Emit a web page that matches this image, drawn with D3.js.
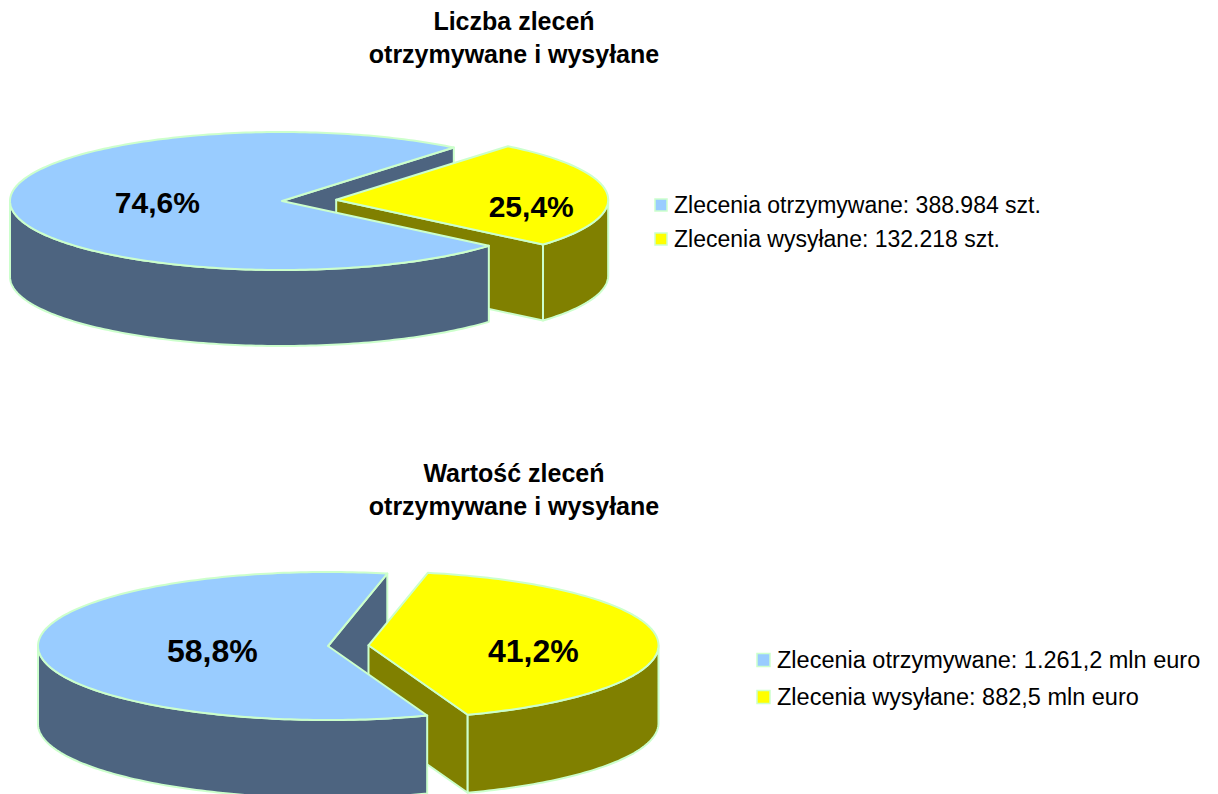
<!DOCTYPE html>
<html>
<head>
<meta charset="utf-8">
<script src="https://cdn.jsdelivr.net/npm/d3@7"></script>
<style>
  body { margin: 0; background: #fff; }
  text { font-family: "Liberation Sans", Arial, sans-serif; }
</style>
</head>
<body>
<script>
// dane
const categories = ["Zlecenia otrzymywane", "Zlecenia wysyłane"];
const countValues = [388984, 132218];
const countUnit = "szt.";
const amountValues = [1261.2, 882.5];
const amountUnit = "mln euro";
const titles = [
  ["Liczba zleceń", "otrzymywane i wysyłane"],
  ["Wartość zleceń", "otrzymywane i wysyłane"]
];

const topColors = ["#99ccff", "#ffff00"];
const sideColors = ["#4d6480", "#808000"];
const edge = "#ccffcc";

const pl = d3.formatLocale({ decimal: ",", thousands: ".", grouping: [3], currency: ["", ""] });
const pct = pl.format(".1%");
const countFmt = pl.format(",");
const amountFmt = pl.format(",.1f");

// uklad obu wykresow
const layouts = [
  { values: countValues, fmt: countFmt, unit: countUnit, title: titles[0],
    cx: 282, cy: 201, rx: 272, ry: 69, depth: 76, startDeg: 40.5, explode: [0, 0.2],
    labelR: [0.46, 0.72], labelDy: [-2, 11], labelSize: 30,
    titleY: 30, legendX: 655, legendY: 205, legendStep: 34, legendSize: 23, box: 12 },
  { values: amountValues, fmt: amountFmt, unit: amountUnit, title: titles[1],
    cx: 328, cy: 646, rx: 290, ry: 74, depth: 78, startDeg: 70, explode: [0, 0.14],
    labelR: [0.40, 0.57], labelDy: [2, 8], labelSize: 32,
    titleY: 482, legendX: 757, legendY: 660, legendStep: 37, legendSize: 23.5, box: 13 }
];

const svg = d3.select("body").append("svg")
  .attr("width", 1218)
  .attr("height", 794);

function drawPie(L) {
  const g = svg.append("g");
  const x = d3.scaleLinear().domain([-1, 1]).range([L.cx - L.rx, L.cx + L.rx]);
  const y = d3.scaleLinear().domain([-1, 1]).range([L.cy - L.ry, L.cy + L.ry]);
  const a0 = (L.startDeg + 90) * Math.PI / 180;
  const pie = d3.pie().sort(null).startAngle(a0).endAngle(a0 + 2 * Math.PI);
  const total = d3.sum(L.values);

  // katy ekranowe (0 = wschod, zgodnie z ruchem wskazowek)
  const slices = pie(L.values).map((d, i) => {
    const s = d.startAngle - Math.PI / 2;
    const e = d.endAngle - Math.PI / 2;
    const m = (s + e) / 2;
    const ox = x(L.explode[i] * Math.cos(m)) - L.cx;
    const oy = y(L.explode[i] * Math.sin(m)) - L.cy;
    return { i, s, e, m, ox, oy, value: d.value };
  });

  const pt = (sl, a, r = 1, dz = 0) => [x(r * Math.cos(a)) + sl.ox, y(r * Math.sin(a)) + sl.oy + dz];
  const arcPts = (sl, from, to, dz = 0) => {
    const n = Math.max(2, Math.ceil(Math.abs(to - from) / 0.02));
    return d3.range(n + 1).map(k => pt(sl, from + (to - from) * k / n, 1, dz));
  };
  const line = d3.line();

  // sciany promieniowe
  const faces = [];
  slices.forEach(sl => {
    [[sl.s, -1], [sl.e, 1]].forEach(([a, side]) => {
      if (side * Math.cos(a) > 0) {
        const c = pt(sl, 0, 0), r = pt(sl, a);
        const poly = [c, r, [r[0], r[1] + L.depth], [c[0], c[1] + L.depth]];
        faces.push({ sl, poly, my: (c[1] + r[1]) / 2 });
      }
    });
  });
  faces.sort((p, q) => p.my - q.my);
  faces.forEach(f => {
    g.append("path")
      .attr("d", line(f.poly) + "Z")
      .attr("fill", sideColors[f.sl.i])
      .attr("stroke", edge).attr("stroke-width", 2).attr("stroke-linejoin", "round");
  });

  // sciany zewnetrzne (przednia polowa)
  slices.forEach(sl => {
    for (let k = -1; k <= 2; k++) {
      const lo = Math.max(sl.s, k * 2 * Math.PI);
      const hi = Math.min(sl.e, k * 2 * Math.PI + Math.PI);
      if (hi - lo > 1e-4) {
        const poly = arcPts(sl, lo, hi).concat(arcPts(sl, hi, lo, L.depth));
        g.append("path")
          .attr("d", line(poly) + "Z")
          .attr("fill", sideColors[sl.i])
          .attr("stroke", edge).attr("stroke-width", 2).attr("stroke-linejoin", "round");
      }
    }
  });

  // wierzch
  slices.forEach(sl => {
    const poly = [pt(sl, 0, 0)].concat(arcPts(sl, sl.s, sl.e));
    g.append("path")
      .attr("d", line(poly) + "Z")
      .attr("fill", topColors[sl.i])
      .attr("stroke", edge).attr("stroke-width", 2).attr("stroke-linejoin", "round");
  });

  // etykiety procentowe
  slices.forEach(sl => {
    const p = pt(sl, sl.m, L.labelR[sl.i]);
    g.append("text")
      .attr("x", p[0])
      .attr("y", p[1] + L.labelDy[sl.i] + 0.36 * L.labelSize)
      .attr("text-anchor", "middle")
      .attr("font-size", L.labelSize)
      .attr("font-weight", "bold")
      .text(pct(sl.value / total));
  });

  // tytul
  const t = svg.append("text")
    .attr("x", 514)
    .attr("y", L.titleY)
    .attr("text-anchor", "middle")
    .attr("font-size", 25)
    .attr("font-weight", "bold");
  L.title.forEach((s, k) => {
    t.append("tspan").attr("x", 514).attr("dy", k === 0 ? 0 : 33).text(s);
  });

  // legenda
  const leg = svg.append("g")
    .selectAll("g")
    .data(categories)
    .join("g")
    .attr("transform", (d, i) => `translate(${L.legendX},${L.legendY + i * L.legendStep})`);
  leg.append("rect")
    .attr("x", 0).attr("y", -L.box / 2)
    .attr("width", L.box).attr("height", L.box)
    .attr("fill", (d, i) => topColors[i])
    .attr("stroke", edge).attr("stroke-width", 1.5);
  leg.append("text")
    .attr("x", L.box + 7)
    .attr("y", 0.36 * L.legendSize)
    .attr("font-size", L.legendSize)
    .text((d, i) => `${d}: ${L.fmt(L.values[i])} ${L.unit}`);
}

layouts.forEach(drawPie);
</script>
</body>
</html>
